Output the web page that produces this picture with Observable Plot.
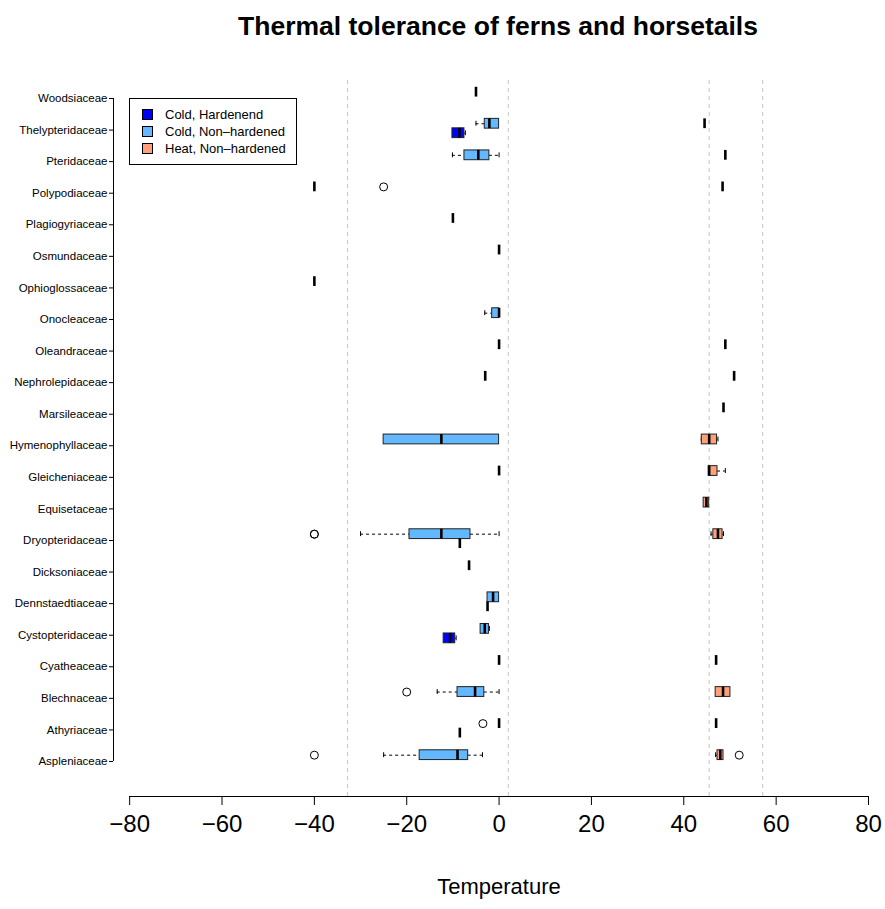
<!DOCTYPE html>
<html>
<head>
<meta charset="utf-8">
<script src="https://cdn.jsdelivr.net/npm/d3@7"></script>
<script src="https://cdn.jsdelivr.net/npm/@observablehq/plot@0.6"></script>
<style>
  body { margin: 0; background: #fff; font-family: "Liberation Sans", Arial, Helvetica, sans-serif; }
  #wrap { position: relative; width: 885px; height: 909px; background: #fff; }
  #title { height: 52px; line-height: 52px; box-sizing: border-box; padding-left: 111px; width: 885px;
           text-align: center; font-weight: bold; font-size: 26.5px; color: #000; }
  #legend { position: absolute; left: 129px; top: 98px; width: 168px; height: 67px; box-sizing: border-box;
            border: 1px solid #000; background: #fff; }
  .row { position: absolute; left: 12px; height: 17px; display: flex; align-items: center; font-size: 13px; color: #000; white-space: nowrap; }
  .sw { width: 9px; height: 9px; border: 1px solid #000; margin-right: 12px; }
</style>
</head>
<body>
<div id="wrap">
  <div id="title">Thermal tolerance of ferns and horsetails</div>
  <div id="chart"></div>
  <div id="legend"></div>
</div>
<script>
// Families, bottom (1) to top (22)
const families = ["Aspleniaceae", "Athyriaceae", "Blechnaceae", "Cyatheaceae", "Cystopteridaceae",
  "Dennstaedtiaceae", "Dicksoniaceae", "Dryopteridaceae", "Equisetaceae", "Gleicheniaceae",
  "Hymenophyllaceae", "Marsileaceae", "Nephrolepidaceae", "Oleandraceae", "Onocleaceae",
  "Ophioglossaceae", "Osmundaceae", "Plagiogyriaceae", "Polypodiaceae", "Pteridaceae",
  "Thelypteridaceae", "Woodsiaceae"];

const groups = ["Cold, Hardenend", "Cold, Non\u2013hardened", "Heat, Non\u2013hardened"];
const groupColors = ["#0000FF", "#63B8FF", "#FFA07A"];

const xTicks = [-80, -60, -40, -20, 0, 20, 40, 60, 80];
const refLines = [-32.8, 2, 45.5, 57.1];

// five-number summaries: [family, min, q1, median, q3, max]
const coldHardened = [
  ["Thelypteridaceae", -10.1, -10.1, -8.6, -7.5, -7.3],
  ["Dryopteridaceae", -8.5, -8.5, -8.5, -8.5, -8.5],
  ["Dennstaedtiaceae", -2.5, -2.5, -2.5, -2.5, -2.5],
  ["Cystopteridaceae", -12.0, -12.0, -10.6, -9.5, -9.3],
  ["Athyriaceae", -8.5, -8.5, -8.5, -8.5, -8.5]
];
const coldNonHardened = [
  ["Woodsiaceae", -5.0, -5.0, -5.0, -5.0, -5.0],
  ["Thelypteridaceae", -5.0, -3.1, -2.1, 0, 0],
  ["Pteridaceae", -10.1, -7.5, -4.5, -2.1, 0],
  ["Polypodiaceae", -40, -40, -40, -40, -40],
  ["Plagiogyriaceae", -10, -10, -10, -10, -10],
  ["Osmundaceae", 0, 0, 0, 0, 0],
  ["Ophioglossaceae", -40, -40, -40, -40, -40],
  ["Onocleaceae", -3.1, -1.5, 0, 0, 0],
  ["Oleandraceae", 0, 0, 0, 0, 0],
  ["Nephrolepidaceae", -3.0, -3.0, -3.0, -3.0, -3.0],
  ["Hymenophyllaceae", -25, -25, -12.5, 0, 0],
  ["Gleicheniaceae", 0, 0, 0, 0, 0],
  ["Dryopteridaceae", -30, -19.4, -12.5, -6.2, 0],
  ["Dicksoniaceae", -6.5, -6.5, -6.5, -6.5, -6.5],
  ["Dennstaedtiaceae", -2.5, -2.5, -1.3, 0, 0],
  ["Cystopteridaceae", -4.0, -4.0, -3.1, -2.2, -2.1],
  ["Cyatheaceae", 0, 0, 0, 0, 0],
  ["Blechnaceae", -13.4, -9.0, -5.2, -3.2, 0],
  ["Athyriaceae", 0, 0, 0, 0, 0],
  ["Aspleniaceae", -25, -17.2, -9.0, -6.7, -3.6]
];
const heatNonHardened = [
  ["Thelypteridaceae", 44.5, 44.5, 44.5, 44.5, 44.5],
  ["Pteridaceae", 49.0, 49.0, 49.0, 49.0, 49.0],
  ["Polypodiaceae", 48.4, 48.4, 48.4, 48.4, 48.4],
  ["Oleandraceae", 49.0, 49.0, 49.0, 49.0, 49.0],
  ["Nephrolepidaceae", 50.9, 50.9, 50.9, 50.9, 50.9],
  ["Marsileaceae", 48.6, 48.6, 48.6, 48.6, 48.6],
  ["Hymenophyllaceae", 43.8, 43.9, 45.5, 47.2, 47.4],
  ["Gleicheniaceae", 45.4, 45.4, 45.5, 47.3, 49.0],
  ["Equisetaceae", 44.3, 44.3, 44.9, 45.5, 45.5],
  ["Dryopteridaceae", 45.9, 46.4, 47.4, 48.4, 48.6],
  ["Cyatheaceae", 47.0, 47.0, 47.0, 47.0, 47.0],
  ["Blechnaceae", 46.9, 46.9, 48.5, 50.1, 50.1],
  ["Athyriaceae", 47.0, 47.0, 47.0, 47.0, 47.0],
  ["Aspleniaceae", 46.9, 47.3, 47.9, 48.6, 48.6]
];
// outliers: [family, group index, value]
const outlierRows = [
  ["Polypodiaceae", 1, -25],
  ["Dryopteridaceae", 1, -40],
  ["Dryopteridaceae", 1, -40],
  ["Blechnaceae", 1, -20],
  ["Athyriaceae", 1, -3.5],
  ["Aspleniaceae", 1, -40],
  ["Aspleniaceae", 2, 52]
];

// layout constants
const groupOffset = [-0.1, 0.2, 0.2];
const half = 0.155, staple = 0.078;
const xDomain = [-83.5, 80];
const yDomain = [-0.109, 22.57];
const font = '"Liberation Sans", Arial, Helvetica, sans-serif';

const sets = [coldHardened, coldNonHardened, heatNonHardened];
const boxes = sets.flatMap((rows, g) => rows.map(([fam, mn, q1, md, q3, mx]) => ({
  group: groups[g], y: families.indexOf(fam) + 1 + groupOffset[g], mn, q1, md, q3, mx
})));
const outs = outlierRows.map(([fam, g, v]) => ({ x: v, y: families.indexOf(fam) + 1 + groupOffset[g] }));

const lowW = boxes.filter(d => d.mn < d.q1);
const highW = boxes.filter(d => d.mx > d.q3);

const chart = Plot.plot({
  width: 885, height: 857,
  marginLeft: 113, marginRight: 17, marginTop: 28, marginBottom: 113,
  x: { domain: xDomain },
  y: { domain: yDomain },
  color: { domain: groups, range: groupColors },
  style: { fontFamily: font, background: "white", color: "black" },
  marks: [
    Plot.ruleX(refLines, { stroke: "#c4c4c4", strokeDasharray: "4,4" }),
    Plot.ruleY(lowW, { y: "y", x1: "mn", x2: "q1", stroke: "#000", strokeDasharray: "3,3" }),
    Plot.ruleY(highW, { y: "y", x1: "q3", x2: "mx", stroke: "#000", strokeDasharray: "3,3" }),
    Plot.ruleX(lowW, { x: "mn", y1: d => d.y - staple, y2: d => d.y + staple, stroke: "#000" }),
    Plot.ruleX(highW, { x: "mx", y1: d => d.y - staple, y2: d => d.y + staple, stroke: "#000" }),
    Plot.rect(boxes, { x1: "q1", x2: "q3", y1: d => d.y - half, y2: d => d.y + half, fill: "group", stroke: "#222", strokeWidth: 1 }),
    Plot.ruleX(boxes, { x: "md", y1: d => d.y - half, y2: d => d.y + half, stroke: "#000", strokeWidth: 2.6 }),
    Plot.dot(outs, { x: "x", y: "y", r: 4, stroke: "#000", fill: "none", strokeWidth: 1 }),
    Plot.axisX({ ticks: xTicks, tickSize: 9, tickPadding: 9, fontSize: 24, label: null }),
    Plot.axisY({ ticks: d3.range(1, families.length + 1), tickFormat: i => families[i - 1], tickSize: 4, tickPadding: 2, fontSize: 11.5, label: null }),
    Plot.ruleY([yDomain[0]], { x1: xTicks[0], x2: xTicks[xTicks.length - 1], stroke: "#000" }),
    Plot.ruleX([xDomain[0]], { y1: 1, y2: families.length, stroke: "#000" }),
    Plot.text(["Temperature"], { frameAnchor: "bottom", dy: 97, dx: 8, fontSize: 22, fill: "#000" })
  ]
});
document.getElementById("chart").appendChild(chart);

const legend = document.getElementById("legend");
groups.forEach((g, i) => {
  const row = document.createElement("div");
  row.className = "row";
  row.style.top = (7 + 17 * i) + "px";
  const sw = document.createElement("span");
  sw.className = "sw";
  sw.style.background = groupColors[i];
  const t = document.createElement("span");
  t.textContent = g;
  row.appendChild(sw); row.appendChild(t);
  legend.appendChild(row);
});
</script>
</body>
</html>
